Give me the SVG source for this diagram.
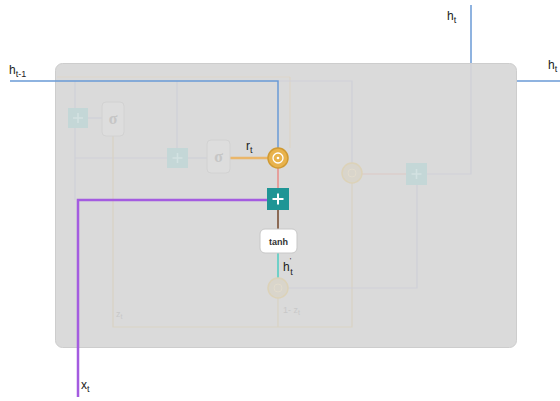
<svg xmlns="http://www.w3.org/2000/svg" width="560" height="401" viewBox="0 0 560 401">
<style>
.lbl{font-family:"Liberation Sans",Arial,sans-serif;fill:#222;font-size:12px}
.sub{font-size:9px}
.faint{fill:none;stroke:#cfd0d8;stroke-width:1.2}
.fainty{fill:none;stroke:#d9d3c4;stroke-width:1.2}
.fplus{fill:#c4d7d7}
.fplustxt{stroke:#d3e2e2;stroke-width:1.5}
.fsig{fill:#dddddd;stroke:#d2d2d2;stroke-width:1}
.fsigtxt{font-family:"Liberation Serif",serif;font-size:16px;fill:#c6c6c6;font-weight:bold}
.fcirc{fill:#d9d5cb;stroke:#dcd2b8;stroke-width:1.5}
.flbl{font-family:"Liberation Sans",Arial,sans-serif;fill:#c8c8c8;font-size:9px}
</style>
<rect width="560" height="401" fill="#fff"/>
<g id="cell">
<rect x="55.5" y="63.5" width="461" height="284" rx="7" fill="#dadada" stroke="#cdcdcd"/>
</g>
<g id="connectors">
<line x1="57" y1="77" x2="290" y2="77" stroke="#ded6ca" stroke-width="1"/>
<line x1="290" y1="77" x2="290" y2="148" stroke="#ddd3c2" stroke-width="1"/>
<polyline class="faint" points="278,81 352,81 352,163"/>
<line class="faint" x1="75" y1="81" x2="75" y2="200"/>
<line class="faint" x1="177" y1="81" x2="177" y2="148"/>
<line class="faint" x1="88" y1="118" x2="102" y2="118"/>
<line class="faint" x1="75" y1="158" x2="167" y2="158"/>
<line class="faint" x1="188" y1="158" x2="207" y2="158"/>
<polyline class="fainty" points="113,136 113,327 352,327 352,183"/>
<line class="fainty" x1="278" y1="298" x2="278" y2="327"/>
<polyline class="faint" points="288,288 417,288 417,185"/>
<line x1="362" y1="174" x2="406" y2="174" stroke="#dcc8c4" stroke-width="1.2"/>
<polyline class="faint" points="427,174 471,174 471,63"/>
<polyline points="10,81 278,81 278,148" fill="none" stroke="#6a9ad6" stroke-width="1.5"/>
<line x1="471" y1="5" x2="471" y2="63" stroke="#6a9ad6" stroke-width="1.5"/>
<line x1="517" y1="81" x2="560" y2="81" stroke="#6a9ad6" stroke-width="1.5"/>
<line x1="230" y1="158" x2="268" y2="158" stroke="#eab66a" stroke-width="2.5"/>
<line x1="278" y1="168" x2="278" y2="188" stroke="#e98b86" stroke-width="1.5"/>
<line x1="278" y1="210" x2="278" y2="229" stroke="#8c6a55" stroke-width="2"/>
<line x1="278" y1="253" x2="278" y2="278" stroke="#6fd0c8" stroke-width="2"/>
<polyline points="78,397 78,200 267,200" fill="none" stroke="#a45ce0" stroke-width="2.5"/>
</g>
<g id="plus1"><rect class="fplus" x="68" y="108" width="20" height="20"/><path class="fplustxt" d="M73 118h10M78 113v10"/></g>
<g id="sigma1"><rect class="fsig" x="102" y="102" width="22" height="34" rx="4"/><text class="fsigtxt" x="113" y="124" text-anchor="middle">σ</text></g>
<g id="plus2"><rect class="fplus" x="167" y="148" width="21" height="20"/><path class="fplustxt" d="M172.5 158h10M177.5 153v10"/></g>
<g id="sigma2"><rect class="fsig" x="207" y="140" width="23" height="33" rx="4"/><text class="fsigtxt" x="218.5" y="162" text-anchor="middle">σ</text></g>
<g id="rgate">
<circle cx="278" cy="158" r="10" fill="#e8b24c" stroke="#d09a32" stroke-width="1.5"/>
<circle cx="278" cy="158" r="5" fill="none" stroke="#fff" stroke-width="1.3"/>
<circle cx="278" cy="158" r="1.3" fill="#fff"/>
</g>
<g id="plusmain"><rect x="267" y="188" width="22" height="22" fill="#1f9595"/><path d="M272.5 199h11M278 193.5v11" stroke="#fff" stroke-width="2"/></g>
<g id="tanh"><rect x="260" y="229" width="37" height="24" rx="5" fill="#fff" stroke="#c8c8c8"/><text x="278.5" y="244.5" text-anchor="middle" font-family="'Liberation Sans',Arial,sans-serif" font-size="9" font-weight="bold" fill="#333">tanh</text></g>
<g id="mul1"><circle class="fcirc" cx="278" cy="288" r="10"/><circle cx="278" cy="288" r="4" fill="none" stroke="#e2dccd"/></g>
<g id="mul2"><circle class="fcirc" cx="352" cy="173" r="10"/><circle cx="352" cy="173" r="4" fill="none" stroke="#e2dccd"/></g>
<g id="plus3"><rect class="fplus" x="406" y="163" width="21" height="22"/><path class="fplustxt" d="M411.5 174h10M416.5 169v10"/></g>
<g id="labels">
<text class="lbl" x="9" y="74">h<tspan class="sub" dy="3">t-1</tspan></text>
<text class="lbl" x="447" y="20">h<tspan class="sub" dy="3">t</tspan></text>
<text class="lbl" x="548" y="69">h<tspan class="sub" dy="3" font-size="10">t</tspan></text>
<text class="lbl" x="81" y="389">x<tspan class="sub" dy="3">t</tspan></text>
<text class="lbl" x="246" y="150" font-size="8">r<tspan class="sub" dy="3" font-size="9">t</tspan></text>
<text class="lbl" x="283" y="271" font-size="10">h<tspan font-size="8" dy="-8">'</tspan><tspan class="sub" dy="12" dx="-1">t</tspan></text>
<text class="flbl" x="116" y="317">z<tspan font-size="7" dy="2">t</tspan></text>
<text class="flbl" x="283" y="313">1- z<tspan font-size="7" dy="2">t</tspan></text>
</g>
</svg>
